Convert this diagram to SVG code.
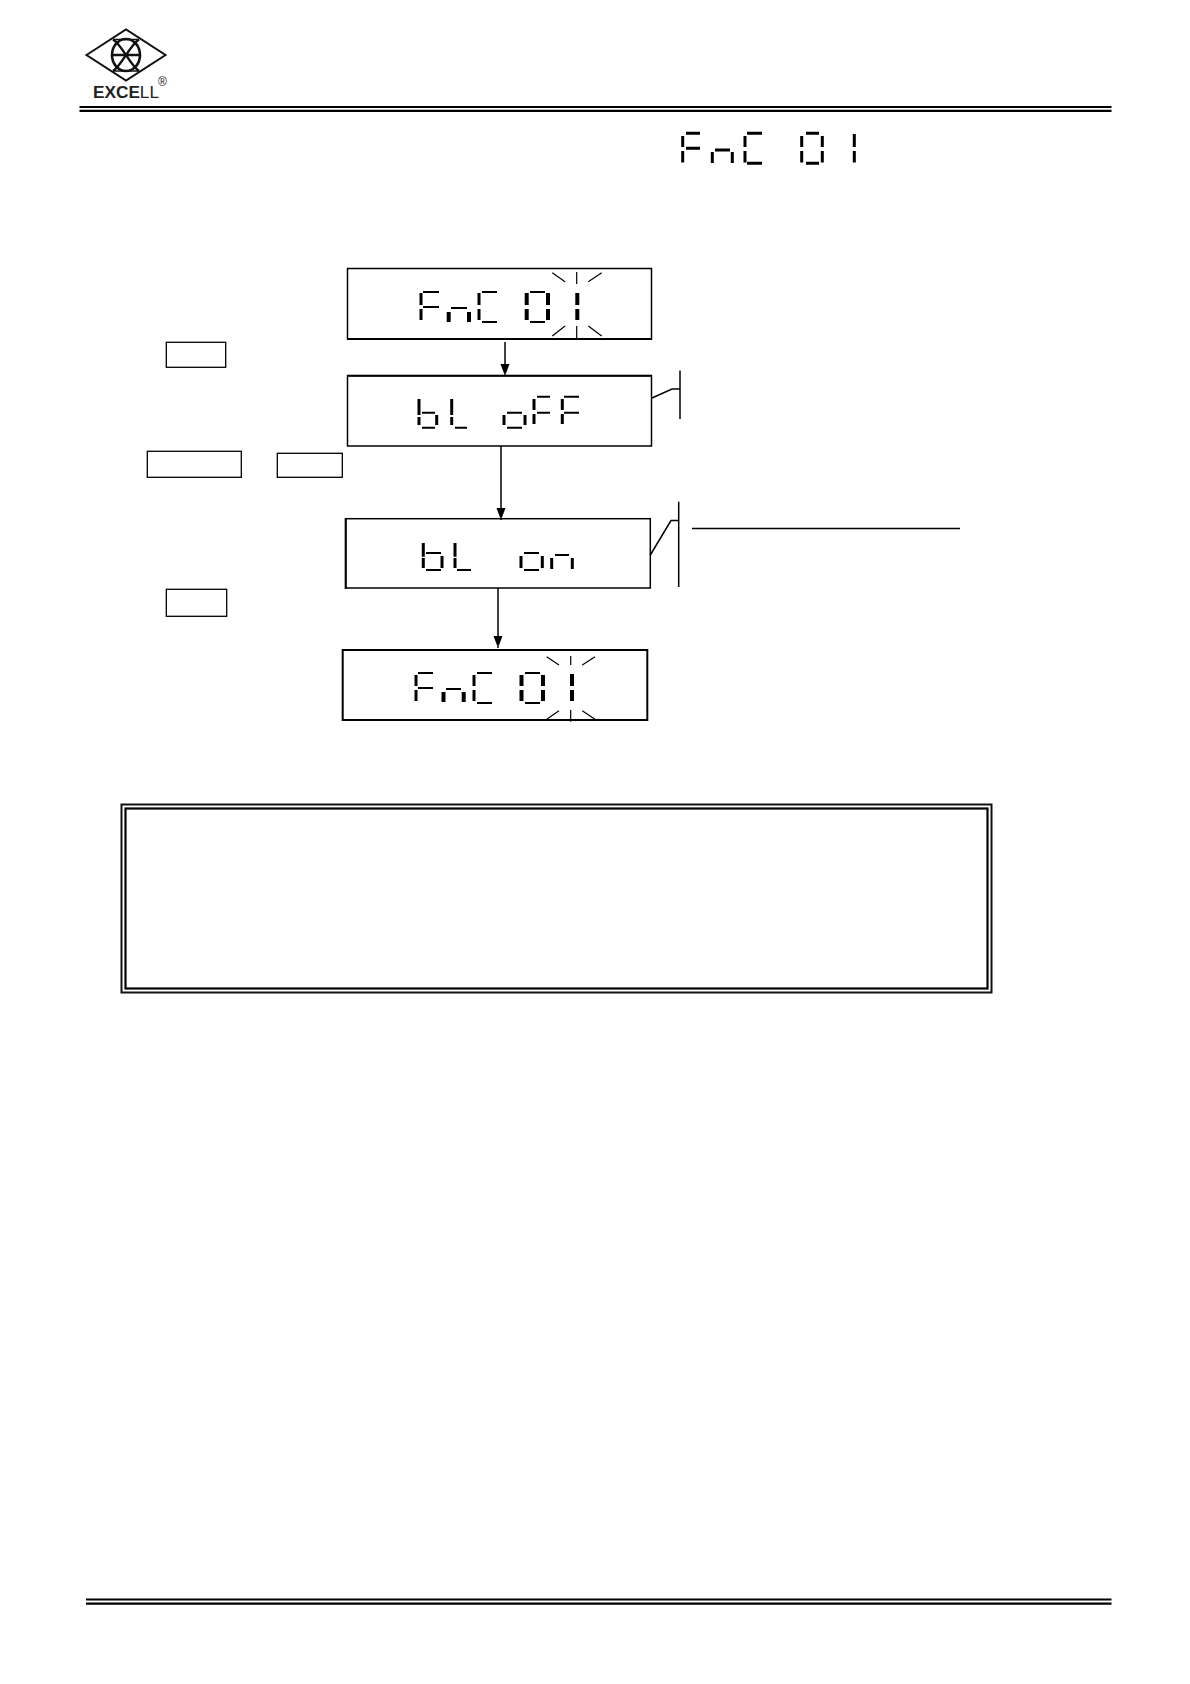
<svg xmlns="http://www.w3.org/2000/svg" width="1190" height="1684" viewBox="0 0 1190 1684">
<style>
.box{fill:none;stroke:#000;stroke-width:1.3}
.lcd{fill:none;stroke:#000;stroke-width:1.5}
.seg{fill:none;stroke:#000;stroke-width:2}
.thn{fill:none;stroke:#000;stroke-width:3}
.thk{fill:none;stroke:#000;stroke-width:4}
.ray{fill:none;stroke:#000;stroke-width:1.2}
.con{fill:none;stroke:#000;stroke-width:1.5}
.rule{fill:none;stroke:#000;stroke-width:2.2}
</style>
<defs>
<marker id="ah" markerUnits="userSpaceOnUse" markerWidth="9" markerHeight="13" refX="12" refY="4.5" orient="auto"><path d="M0 0L12 4.5L0 9z" fill="#000"/></marker>
</defs>
<rect width="1190" height="1684" fill="#fff"/>
<g id="logo">
<path d="M86.5 55L126 29.5L165.5 55L126 80.5z" fill="none" stroke="#111" stroke-width="2"/>
<ellipse cx="126" cy="55" rx="14" ry="16" fill="none" stroke="#111" stroke-width="2.6"/>
<path d="M113 39.5C122 45 130 65 139 71M139 39.5C130 45 122 65 113 71M112 55H140" fill="none" stroke="#111" stroke-width="2.4"/>
<path d="M113 39.5H139M113 71H139" fill="none" stroke="#111" stroke-width="1.4"/>
<text x="93" y="98" font-family="'Liberation Sans',Arial,sans-serif" font-size="16" font-weight="700" fill="#222" textLength="66" lengthAdjust="spacingAndGlyphs">EXCE<tspan font-weight="400">LL</tspan></text>
<text x="158" y="85.5" font-family="'Liberation Sans',Arial,sans-serif" font-size="12" fill="#222">®</text>
</g>
<g id="header-rule">
<path class="rule" d="M79.5 107H1111.5"/>
<path class="rule" d="M79.5 110.8H1111.5"/>
</g>
<g id="footer-rule">
<path class="rule" d="M86 1599.5H1111.5"/>
<path class="rule" d="M86 1603.7H1111.5"/>
</g>
<g id="display-top">
<path class="thn" d="M686 133.3H700M686 148.3H700M715 150H730M747 133.3H762M747 163.3H762M806 133.3H819M806 163.3H819"/>
<path class="thn" d="M682.7 136V147M682.7 151V162.5M712.3 152V163M732.3 152V163M745 136V147M745 151V162.5M801.7 136V147M801.7 151V162.5M822.3 136V147M822.3 151V162.5M854.3 134V147M854.3 151V162.5"/>
</g>
<g id="lcd-fnc-1">
<rect class="lcd" x="347.5" y="268.5" width="304" height="70.5"/>
<path d="M347 339H652" stroke="#000" stroke-width="2" fill="none"/>
<path class="seg" d="M423 292H439M423 307H439M451 308H467M482 292H497M482 322H497M530 292H545M530 322H545"/>
<path class="thn" d="M421 293V305M421 309V320M479 293V305M479 309V320"/>
<path class="thk" d="M448.7 312V322M469 312V322M526.7 293V305M526.7 309V320M548 293V305M548 309V320M577.3 293V305M577.3 309V320"/>
<path class="ray" d="M576.7 272V284M576.7 326V338M552.3 272.7L565 281.7M601.7 272.7L588.3 281.7M552.3 336L565 326M601.7 336L588.3 326"/>
</g>
<g id="lcd-bl-off">
<rect class="lcd" x="347.5" y="375.7" width="304" height="70.3"/>
<path d="M347 375.7H652" stroke="#000" stroke-width="2" fill="none"/>
<path class="seg" d="M422 412.7H435M422 427.7H435M455 427.7H467M507 412.7H522M507 427.7H522M537 396.7H550M537 412.7H550M564 396.7H579M564 412.7H579"/>
<path class="thn" d="M419 399V415M419 417V425M436.7 415V425M451.7 399V415M451.7 417V425M504 415V425M525 415V425M534 399V410M534 414V424M562.3 399V410M562.3 414V424"/>
</g>
<g id="lcd-bl-on">
<rect class="lcd" x="345.7" y="518.7" width="304.6" height="69.3"/>
<path d="M345.7 518V589" stroke="#000" stroke-width="2" fill="none"/>
<path class="seg" d="M426 553H441M426 570H441M457 570H471M524 553H539M524 570H539M555 555H569"/>
<path class="thn" d="M423.3 543V556.7M423.3 558V568M442 556V568M455 543V556.7M455 558V568M521 556V568M542.3 556V568M551.7 558V569M572.3 558V569"/>
</g>
<g id="lcd-fnc-2">
<rect x="342.7" y="650" width="304.6" height="70" fill="none" stroke="#000" stroke-width="2"/>
<path class="seg" d="M418 673H433M418 688H433M446 689H461M477 673H492M477 703H492M525 673H540M525 703H540"/>
<path class="thn" d="M416 675V686M416 690V701M474 675V686M474 690V701"/>
<path class="thk" d="M443.5 692V702M463.7 692V702M521.5 675V686M521.5 690V701M543 675V686M543 690V701M572 674V686M572 690V701"/>
<path class="ray" d="M570.7 656V665M570.7 710V721.7M546.7 656.7L559 665M595 656.7L582.3 665M546.7 719.3L559 710.7M595 719.3L582.3 710.7"/>
</g>
<g id="key-a"><rect class="box" x="166.3" y="342.3" width="59.4" height="25"/></g>
<g id="key-b"><rect class="box" x="147.3" y="451.3" width="94" height="26"/></g>
<g id="key-c"><rect class="box" x="277.3" y="453.3" width="65" height="24"/></g>
<g id="key-d"><rect class="box" x="166.3" y="589.3" width="60.4" height="27"/></g>
<g id="connectors">
<path class="con" marker-end="url(#ah)" d="M505 342V376"/>
<path class="con" marker-end="url(#ah)" d="M501 446V520"/>
<path class="con" marker-end="url(#ah)" d="M498 588V648"/>
<path class="con" d="M652 398L672 389H680"/>
<path class="con" d="M680 370.5V419"/>
<path class="con" d="M650.3 555L671 520.5H678.7"/>
<path class="con" d="M678.7 501.7V587"/>
<path class="con" stroke-width="1.8" d="M692 528.5H960"/>
</g>
<g id="note-frame">
<rect x="121.5" y="804.5" width="870" height="188" fill="none" stroke="#111" stroke-width="2"/>
<rect x="125.5" y="808.5" width="862" height="180" fill="none" stroke="#000" stroke-width="2.2"/>
</g>
</svg>
